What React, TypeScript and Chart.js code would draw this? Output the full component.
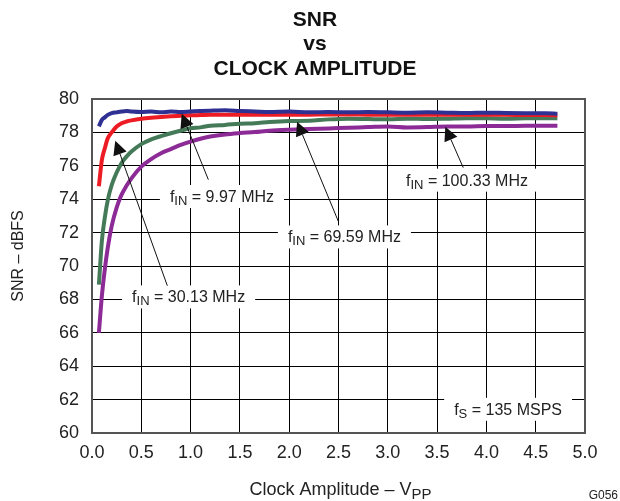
import React, { useEffect, useRef } from 'react';
import { Chart, registerables } from 'chart.js';

Chart.register(...registerables);

// Clock amplitude (Vpp) sample points
const xValues = [0.07, 0.1, 0.13, 0.16, 0.2, 0.25, 0.3, 0.35, 0.4, 0.5, 0.6, 0.7, 0.8, 0.9, 1.0, 1.1, 1.2, 1.35, 1.5, 1.65, 1.8, 2.0, 2.2, 2.4, 2.6, 2.8, 3.0, 3.2, 3.4, 3.6, 3.8, 4.0, 4.2, 4.4, 4.6, 4.72];

// SNR (dBFS) per input frequency
const snr997 = [78.36, 78.75, 78.9, 79.05, 79.15, 79.2, 79.25, 79.28, 79.25, 79.22, 79.25, 79.2, 79.25, 79.22, 79.25, 79.28, 79.3, 79.32, 79.28, 79.25, 79.22, 79.25, 79.2, 79.22, 79.2, 79.22, 79.2, 79.18, 79.2, 79.18, 79.16, 79.18, 79.16, 79.15, 79.15, 79.12];
const snr3013 = [74.77, 76.35, 77.05, 77.65, 78.0, 78.35, 78.55, 78.65, 78.72, 78.82, 78.88, 78.92, 78.96, 78.99, 79.02, 79.04, 79.06, 79.06, 79.05, 79.05, 79.06, 79.06, 79.06, 79.07, 79.07, 79.06, 79.06, 79.05, 79.06, 79.05, 79.05, 79.05, 79.05, 79.04, 79.04, 79.02];
const snr6959 = [68.88, 71.5, 72.9, 73.95, 74.85, 75.6, 76.17, 76.55, 76.85, 77.3, 77.58, 77.78, 77.95, 78.1, 78.25, 78.3, 78.4, 78.45, 78.52, 78.55, 78.62, 78.68, 78.7, 78.78, 78.82, 78.8, 78.78, 78.82, 78.8, 78.82, 78.85, 78.84, 78.82, 78.84, 78.85, 78.85];
const snr10033 = [66.0, 68.2, 69.8, 71.1, 72.4, 73.5, 74.27, 74.8, 75.25, 75.95, 76.4, 76.75, 77.0, 77.25, 77.45, 77.62, 77.75, 77.88, 77.96, 78.02, 78.1, 78.16, 78.2, 78.24, 78.28, 78.32, 78.36, 78.3, 78.32, 78.36, 78.35, 78.38, 78.38, 78.4, 78.4, 78.4];

const seriesNames = ['fIN = 9.97 MHz', 'fIN = 30.13 MHz', 'fIN = 69.59 MHz', 'fIN = 100.33 MHz'];
const seriesValues = [snr997, snr3013, snr6959, snr10033];
const seriesColors = ['#2e3192', '#ed1c24', '#447a58', '#8c2a96'];

const titleLines = ['SNR', 'vs', 'CLOCK AMPLITUDE'];
const xMin = 0, xMax = 5, xStep = 0.5;
const yMin = 60, yMax = 80, yStep = 2;

// Annotation labels (text + arrows), in data coordinates
const annotations = [
  { main: 'f', sub: 'IN', rest: ' = 9.97 MHz', at: [1.318, 74.19], from: [1.18, 75.17], to: [0.91, 79.12] },
  { main: 'f', sub: 'IN', rest: ' = 30.13 MHz', at: [0.98, 68.18], from: [0.764, 68.82], to: [0.236, 77.5] },
  { main: 'f', sub: 'IN', rest: ' = 69.59 MHz', at: [2.56, 71.77], from: [2.5, 72.65], to: [2.08, 78.64] },
  { main: 'f', sub: 'IN', rest: ' = 100.33 MHz', at: [3.803, 75.17], from: [3.765, 75.89], to: [3.583, 78.34] },
  { main: 'f', sub: 'S', rest: ' = 135 MSPS', at: [4.22, 61.45] },
];

const FONT = '"Liberation Sans", Arial, Helvetica, sans-serif';

function drawSubText(ctx: CanvasRenderingContext2D, parts: { t: string; size: number; dy: number }[], x: number, baseline: number, align: 'left' | 'center') {
  let total = 0;
  const widths = parts.map((p) => {
    ctx.font = `${p.size}px ${FONT}`;
    const w = ctx.measureText(p.t).width;
    total += w;
    return w;
  });
  let cx = align === 'center' ? x - total / 2 : x;
  ctx.textAlign = 'left';
  ctx.textBaseline = 'alphabetic';
  parts.forEach((p, i) => {
    ctx.font = `${p.size}px ${FONT}`;
    ctx.fillText(p.t, cx, baseline + p.dy);
    cx += widths[i];
  });
  return total;
}

const decorPlugin = {
  id: 'decor',
  afterDatasetsDraw(chart: any) {
    const ctx: CanvasRenderingContext2D = chart.ctx;
    const xs = chart.scales.x;
    const ys = chart.scales.y;
    ctx.save();
    annotations.forEach((a) => {
      const cx = xs.getPixelForValue(a.at[0]);
      const cy = ys.getPixelForValue(a.at[1]);
      const parts = [
        { t: a.main, size: 16, dy: 0 },
        { t: a.sub, size: 13, dy: 3 },
        { t: a.rest, size: 16, dy: 0 },
      ];
      let total = 0;
      parts.forEach((p) => {
        ctx.font = `${p.size}px ${FONT}`;
        total += ctx.measureText(p.t).width;
      });
      ctx.fillStyle = '#ffffff';
      ctx.fillRect(cx - total / 2 - 10, cy - 11, total + 20, 23);
      ctx.fillStyle = '#222222';
      drawSubText(ctx, parts, cx, cy + 6, 'center');
      if (a.from && a.to) {
        const x1 = xs.getPixelForValue(a.from[0]);
        const y1 = ys.getPixelForValue(a.from[1]);
        const x2 = xs.getPixelForValue(a.to[0]);
        const y2 = ys.getPixelForValue(a.to[1]);
        const dx = x2 - x1, dy = y2 - y1;
        const len = Math.hypot(dx, dy);
        const ux = dx / len, uy = dy / len;
        const hl = 14, hw = 7;
        const bx = x2 - ux * hl, by = y2 - uy * hl;
        ctx.strokeStyle = '#111111';
        ctx.lineWidth = 1;
        ctx.beginPath();
        ctx.moveTo(x1, y1);
        ctx.lineTo(bx, by);
        ctx.stroke();
        ctx.fillStyle = '#111111';
        ctx.beginPath();
        ctx.moveTo(x2, y2);
        ctx.lineTo(bx - uy * hw, by + ux * hw);
        ctx.lineTo(bx + uy * hw, by - ux * hw);
        ctx.closePath();
        ctx.fill();
      }
    });
    ctx.restore();
  },
  afterDraw(chart: any) {
    const ctx: CanvasRenderingContext2D = chart.ctx;
    const area = chart.chartArea;
    ctx.save();
    // plot frame
    ctx.strokeStyle = '#555555';
    ctx.lineWidth = 2;
    ctx.strokeRect(area.left, area.top, area.right - area.left, area.bottom - area.top);
    // title
    ctx.fillStyle = '#111111';
    ctx.font = `bold 21px ${FONT}`;
    ctx.textAlign = 'center';
    ctx.textBaseline = 'alphabetic';
    const baselines = [26, 50, 75];
    titleLines.forEach((t, i) => ctx.fillText(t, 315, baselines[i]));
    // x axis title
    ctx.fillStyle = '#222222';
    drawSubText(ctx, [
      { t: 'Clock Amplitude \u2013 V', size: 18, dy: 0 },
      { t: 'PP', size: 15, dy: 4 },
    ], (area.left + area.right) / 2 + 2, 495, 'center');
    // y axis title
    ctx.save();
    ctx.translate(19, 256);
    ctx.rotate(-Math.PI / 2);
    ctx.font = `16px ${FONT}`;
    ctx.textAlign = 'center';
    ctx.textBaseline = 'middle';
    ctx.fillText('SNR \u2013 dBFS', 0, 0);
    ctx.restore();
    // figure id
    ctx.font = `12px ${FONT}`;
    ctx.textAlign = 'right';
    ctx.textBaseline = 'alphabetic';
    ctx.fillText('G056', 618, 499);
    ctx.restore();
  },
};

export default function App() {
  const canvasRef = useRef<HTMLCanvasElement | null>(null);

  useEffect(() => {
    if (!canvasRef.current) return;
    const datasets = seriesValues.map((vals, i) => ({
      label: seriesNames[i],
      data: xValues.map((x, j) => ({ x, y: vals[j] })),
      borderColor: seriesColors[i],
      backgroundColor: seriesColors[i],
      borderWidth: 4,
      pointRadius: 0,
      cubicInterpolationMode: 'monotone' as const,
      fill: false,
    }));
    const chart = new Chart(canvasRef.current, {
      type: 'line',
      data: { datasets },
      options: {
        animation: false,
        responsive: false,
        maintainAspectRatio: false,
        layout: { padding: { top: 99, right: 35, left: 0, bottom: 0 } },
        plugins: {
          legend: { display: false },
          title: { display: false },
          tooltip: { enabled: false },
        },
        scales: {
          x: {
            type: 'linear',
            min: xMin,
            max: xMax,
            afterFit: (s: any) => { s.height = 68; },
            ticks: {
              stepSize: xStep,
              padding: 9,
              color: '#222222',
              font: { family: FONT, size: 18 },
              callback: (v: any) => Number(v).toFixed(1),
            },
            grid: { color: '#000000', lineWidth: 1, drawTicks: false },
            border: { display: false },
          },
          y: {
            type: 'linear',
            min: yMin,
            max: yMax,
            afterFit: (s: any) => { s.width = 92; },
            ticks: {
              stepSize: yStep,
              padding: 13,
              color: '#222222',
              font: { family: FONT, size: 18 },
            },
            grid: { color: '#000000', lineWidth: 1, drawTicks: false },
            border: { display: false },
          },
        },
      },
      plugins: [decorPlugin],
    });
    return () => chart.destroy();
  }, []);

  return (
    <div style={{ position: 'absolute', left: 0, top: 0, width: 620, height: 501, background: '#ffffff' }}>
      <canvas ref={canvasRef} width={620} height={501} style={{ width: 620, height: 501, display: 'block' }} />
    </div>
  );
}
